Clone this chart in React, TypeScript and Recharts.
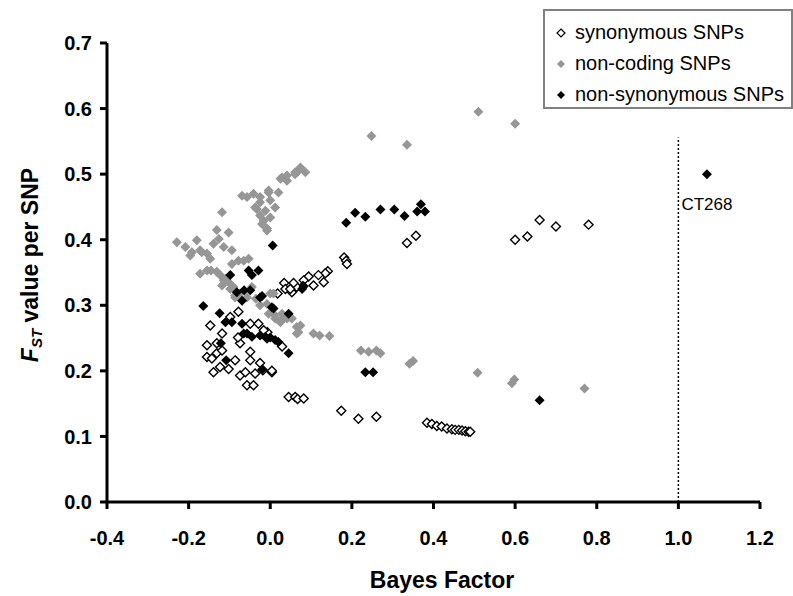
import React from "react";
import {
  ScatterChart, Scatter, XAxis, YAxis, ReferenceLine, ReferenceDot, Legend,
} from "recharts";

// synonymous SNPs (open diamonds)
const synX = [
  0.78, 0.70, 0.66, 0.63, 0.60, 0.357, 0.335, 0.181, 0.186, 0.188,
  0.141, 0.135, 0.118, 0.131, 0.106, 0.094, 0.082, 0.08, 0.065, 0.053, 0.057, 0.034, 0.037, 0.018, 0.049,
  -0.007, 0.029, -0.155, -0.147, -0.118, -0.098, -0.078, -0.049, -0.029, -0.016, -0.074, -0.079,
  -0.155, -0.143, -0.131, -0.123, -0.139, -0.102, -0.086, -0.049, -0.049, -0.025, -0.018, 0.004, 0.004,
  -0.074, -0.061, -0.057, -0.041, -0.037, -0.118, -0.131,
  0.045, 0.061, 0.067, 0.082, 0.174, 0.216, 0.26,
  0.384, 0.396, 0.408, 0.42, 0.433, 0.445, 0.453, 0.462, 0.47, 0.478, 0.486, 0.49,
];
const synY = [
  0.423, 0.42, 0.43, 0.405, 0.40, 0.406, 0.395, 0.373, 0.368, 0.363,
  0.352, 0.349, 0.346, 0.335, 0.33, 0.344, 0.338, 0.329, 0.328, 0.32, 0.334, 0.334, 0.325, 0.318, 0.325,
  0.259, 0.237, 0.239, 0.269, 0.257, 0.282, 0.29, 0.272, 0.272, 0.262, 0.242, 0.251,
  0.221, 0.219, 0.227, 0.206, 0.198, 0.203, 0.216, 0.229, 0.216, 0.212, 0.201, 0.198, 0.2,
  0.193, 0.198, 0.178, 0.178, 0.196, 0.231, 0.242,
  0.16, 0.16, 0.157, 0.158, 0.139, 0.127, 0.13,
  0.121, 0.119, 0.116, 0.115, 0.112, 0.111, 0.11, 0.11, 0.109, 0.108, 0.107, 0.107,
];

// non-coding SNPs (grey diamonds)
const ncX = [
  0.51, 0.60, 0.248, 0.335,
  0.029, 0.041, 0.061, 0.074, 0.086, 0.069, 0.025, 0.041, 0.061,
  -0.069, -0.057, -0.041, -0.025, -0.004, 0.02, -0.004,
  -0.025, 0, -0.033, -0.012, 0.012, -0.025, 0, -0.02, -0.008, -0.008, -0.037, -0.016,
  -0.229, -0.208, -0.192, -0.18, -0.168, -0.155, -0.147, -0.139, -0.131, -0.102, -0.126, -0.118, -0.114, -0.094, -0.196, -0.172,
  -0.172, -0.155, -0.131, -0.123, -0.114, -0.11, -0.098, -0.086, -0.094, -0.078, -0.065, -0.053, -0.09, -0.074, -0.118, -0.086,
  -0.145, -0.102, -0.057, -0.035,
  -0.045, 0, 0.008, -0.008, -0.025, 0.008, -0.004, 0.029, 0.012, 0.025, 0.041, 0.053, 0.016, 0.033, 0.049,
  0.065, 0.074, 0.069, 0.065, 0.106, 0.121, 0.145,
  0.222, 0.241, 0.26, 0.27, 0.341, 0.35, 0.508, 0.592, 0.598, 0.77,
];
const ncY = [
  0.595, 0.577, 0.558, 0.545,
  0.495, 0.49, 0.5, 0.51, 0.503, 0.505, 0.493, 0.498, 0.503,
  0.467, 0.465, 0.47, 0.465, 0.472, 0.472, 0.475,
  0.457, 0.46, 0.447, 0.444, 0.449, 0.437, 0.434, 0.424, 0.417, 0.414, 0.449, 0.429,
  0.396, 0.389, 0.381, 0.399, 0.381, 0.379, 0.371, 0.394, 0.415, 0.411, 0.401, 0.442, 0.389, 0.384, 0.376, 0.384,
  0.348, 0.353, 0.351, 0.346, 0.338, 0.34, 0.325, 0.312, 0.363, 0.368, 0.368, 0.371, 0.328, 0.318, 0.33, 0.315,
  0.353, 0.335, 0.312, 0.31,
  0.328, 0.318, 0.318, 0.302, 0.3, 0.287, 0.287, 0.287, 0.28, 0.274, 0.28, 0.28, 0.28, 0.28, 0.282,
  0.267, 0.269, 0.259, 0.257, 0.257, 0.254, 0.253,
  0.231, 0.229, 0.231, 0.227, 0.211, 0.215, 0.197, 0.181, 0.187, 0.173,
];

// non-synonymous SNPs (black diamonds)
const nsX = [
  1.07, 0.66,
  0.186, 0.208, 0.233, 0.27, 0.304, 0.329, 0.36, 0.369, 0.379,
  0.006, 0.082, 0.078, 0.233, 0.252,
  -0.098, -0.053, -0.029, -0.045, -0.082, -0.064, -0.049, -0.069, -0.164, -0.025, -0.02, 0.008,
  -0.124, -0.11, -0.094, -0.069, -0.065, -0.057, -0.045, -0.025, -0.012, 0, 0.012, 0.02, -0.008,
  0.045, 0.045, -0.121, -0.108, -0.02, 0.004,
];
const nsY = [
  0.50, 0.155,
  0.426, 0.441, 0.435, 0.446, 0.446, 0.436, 0.443, 0.454, 0.443,
  0.391, 0.329, 0.325, 0.198, 0.198,
  0.346, 0.353, 0.353, 0.346, 0.32, 0.323, 0.323, 0.307, 0.299, 0.312, 0.314, 0.295,
  0.288, 0.274, 0.274, 0.272, 0.257, 0.257, 0.252, 0.254, 0.252, 0.251, 0.247, 0.244, 0.249,
  0.287, 0.227, 0.242, 0.216, 0.202, 0.297,
];

const xTicks = [-0.4, -0.2, 0, 0.2, 0.4, 0.6, 0.8, 1.0, 1.2];
const yTicks = [0, 0.1, 0.2, 0.3, 0.4, 0.5, 0.6, 0.7];

const toPoints = (xs: number[], ys: number[]) => xs.map((x, i) => ({ x, y: ys[i] }));

const FONT = '"Liberation Sans", Arial, sans-serif';

const diamond = (fill: string, stroke: string, r: number) => (props: any) => {
  const { cx, cy } = props;
  if (cx == null || cy == null) return <g />;
  return (
    <polygon
      points={`${cx},${cy - r} ${cx + r},${cy} ${cx},${cy + r} ${cx - r},${cy}`}
      fill={fill}
      stroke={stroke}
      strokeWidth={stroke === "none" ? 0 : 1.4}
    />
  );
};

const series = [
  { name: "synonymous SNPs", fill: "#ffffff", stroke: "#000000", r: 4.5 },
  { name: "non-coding SNPs", fill: "#969696", stroke: "none", r: 5 },
  { name: "non-synonymous SNPs", fill: "#000000", stroke: "none", r: 5 },
];

const LegendBox = () => (
  <div
    style={{
      border: "2px solid #808080",
      background: "#fff",
      padding: "6px 0 4px 8px",
      fontFamily: FONT,
      fontSize: 20,
      lineHeight: "31px",
      boxSizing: "border-box",
      height: 100,
    }}
  >
    {series.map((s) => (
      <div key={s.name} style={{ display: "flex", alignItems: "center" }}>
        <svg width={16} height={16} style={{ marginRight: 6 }}>
          <polygon
            points="8,4 12,8 8,12 4,8"
            fill={s.fill}
            stroke={s.stroke}
            strokeWidth={s.stroke === "none" ? 0 : 1.2}
          />
        </svg>
        <span>{s.name}</span>
      </div>
    ))}
  </div>
);

const YLabel = () => (
  <text
    transform="rotate(-90, 30, 265)"
    x={30}
    y={265}
    textAnchor="middle"
    dominantBaseline="central"
    fontFamily={FONT}
    fontWeight="bold"
    fontSize={23}
    fill="#000"
  >
    <tspan fontStyle="italic">F</tspan>
    <tspan fontStyle="italic" fontSize={15} dy={6}>ST</tspan>
    <tspan dy={-6}> value per SNP</tspan>
  </text>
);

const XLabel = () => (
  <text x={442} y={588} textAnchor="middle" fontFamily={FONT} fontWeight="bold" fontSize={23} fill="#000">
    Bayes Factor
  </text>
);

export default function App() {
  const tickStyle = { fontFamily: FONT, fontWeight: "bold", fontSize: 20, fill: "#000" };
  return (
    <div style={{ width: 793, height: 596, background: "#fff" }}>
      <style>{"body{margin:0}"}</style>
      <ScatterChart width={793} height={596} margin={{ top: 43, right: 33, bottom: 0, left: 0 }}>
        <XAxis
          type="number"
          dataKey="x"
          domain={[-0.4, 1.2]}
          ticks={xTicks}
          tickFormatter={(v: number) => v.toFixed(1)}
          height={94}
          tick={tickStyle}
          tickSize={7}
          tickMargin={22}
          axisLine={{ stroke: "#000", strokeWidth: 3 }}
          tickLine={{ stroke: "#000", strokeWidth: 3 }}
          allowDataOverflow
          label={<XLabel />}
        />
        <YAxis
          type="number"
          dataKey="y"
          domain={[0, 0.7]}
          ticks={yTicks}
          tickFormatter={(v: number) => v.toFixed(1)}
          width={107}
          tick={tickStyle}
          tickSize={7}
          tickMargin={8}
          axisLine={{ stroke: "#000", strokeWidth: 3 }}
          tickLine={{ stroke: "#000", strokeWidth: 3 }}
          allowDataOverflow
          label={<YLabel />}
        />
        <ReferenceLine
          segment={[{ x: 1.0, y: 0 }, { x: 1.0, y: 0.556 }]}
          stroke="#000"
          strokeWidth={1.5}
          strokeDasharray="2 2"
        />
        <Scatter
          name={series[0].name}
          data={toPoints(synX, synY)}
          shape={diamond(series[0].fill, series[0].stroke, series[0].r)}
          isAnimationActive={false}
        />
        <Scatter
          name={series[1].name}
          data={toPoints(ncX, ncY)}
          shape={diamond(series[1].fill, series[1].stroke, series[1].r)}
          isAnimationActive={false}
        />
        <Scatter
          name={series[2].name}
          data={toPoints(nsX, nsY)}
          shape={diamond(series[2].fill, series[2].stroke, series[2].r)}
          isAnimationActive={false}
        />
        <ReferenceDot
          x={1.07}
          y={0.5}
          r={0}
          fill="none"
          stroke="none"
          label={{ value: "CT268", position: "bottom", offset: 24, fontFamily: FONT, fontSize: 17, fill: "#000" }}
        />
        <Legend
          layout="vertical"
          align="center"
          verticalAlign="middle"
          content={<LegendBox />}
          wrapperStyle={{ left: 543, top: 9, width: 250, height: 100 }}
        />
      </ScatterChart>
    </div>
  );
}
